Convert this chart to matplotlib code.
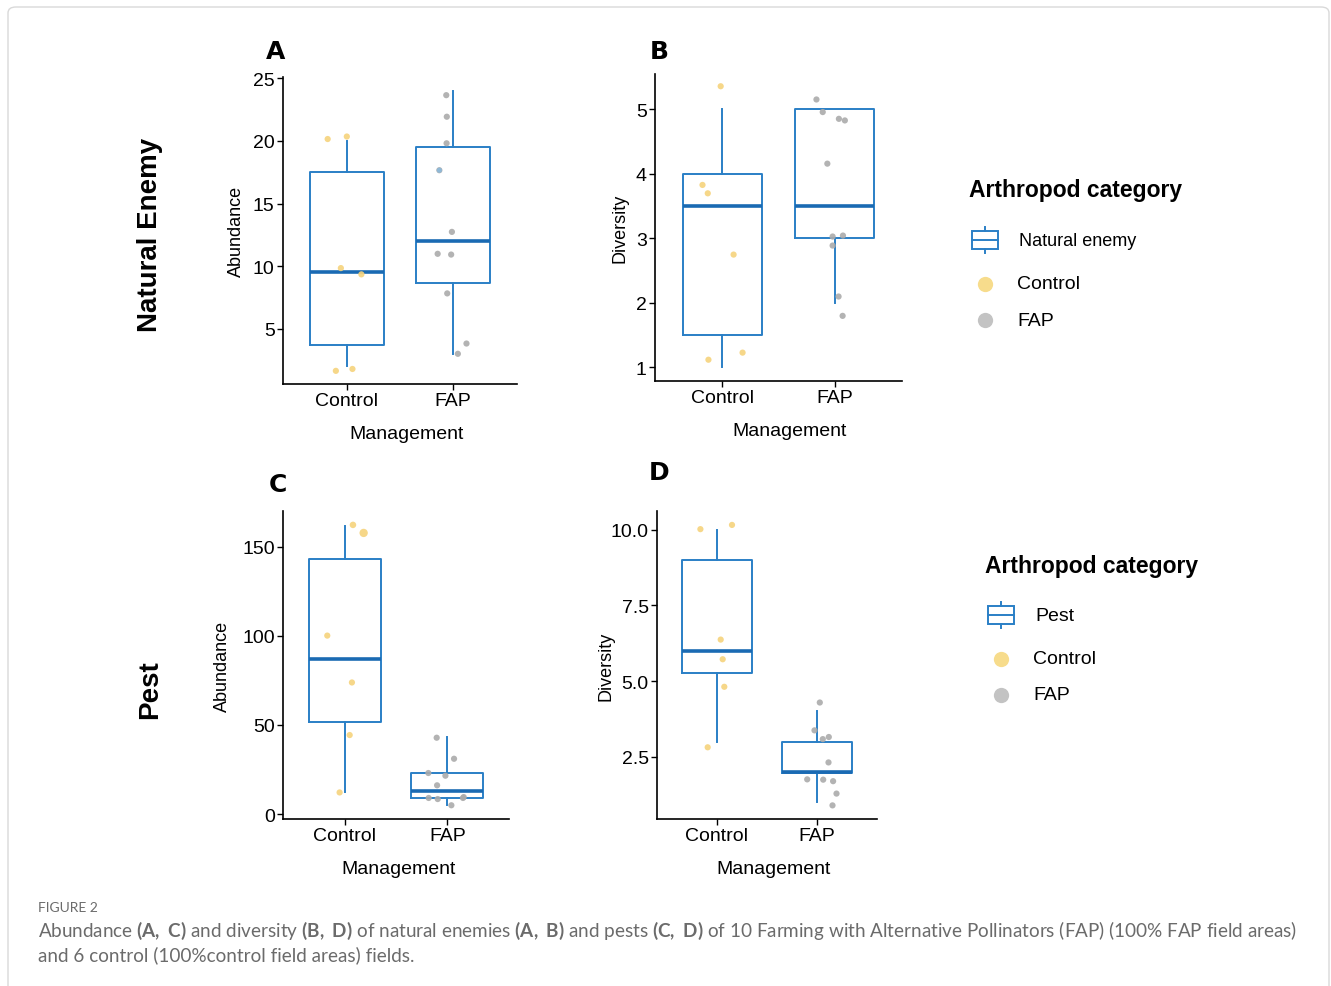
import matplotlib
matplotlib.use("Agg")
import matplotlib.pyplot as plt
from matplotlib.patches import Rectangle, FancyBboxPatch
from matplotlib.lines import Line2D
import numpy as np

plt.rcParams['font.family'] = ['Liberation Sans', 'DejaVu Sans']
plt.rcParams['mathtext.fontset'] = 'custom'
plt.rcParams['mathtext.rm'] = 'Lato'
plt.rcParams['mathtext.bf'] = 'Lato:bold'

W, H = 1331, 987

groups = ["Control", "FAP"]

# ---- Panel A: natural enemy abundance ----
A_box = {  # whislo, q1, med, q3, whishi
    "Control": [2.0, 3.75, 9.5, 17.5, 20.0],
    "FAP": [3.0, 8.7, 12.0, 19.5, 24.0],
}
A_ctrl = [20.15, 20.35, 9.85, 9.35, 1.65, 1.8]
A_ctrl_jit = [-0.18, 0.0, -0.056, 0.137, -0.103, 0.053]
A_fap = [23.65, 21.93, 19.81, 17.66, 12.74, 10.99, 10.93, 7.83, 3.83, 3.01]
A_fap_jit = [-0.065, -0.06, -0.062, -0.13, -0.012, -0.146, -0.019, -0.056, 0.125, 0.044]

# ---- Panel B: natural enemy diversity ----
B_box = {
    "Control": [1.0, 1.5, 3.5, 4.0, 5.0],
    "FAP": [2.0, 3.0, 3.5, 5.0, 5.0],
}
B_ctrl = [5.36, 3.83, 3.70, 2.75, 1.12, 1.23]
B_ctrl_jit = [-0.015, -0.177, -0.13, 0.10, -0.124, 0.18]
B_fap = [5.155, 4.96, 4.855, 4.83, 4.16, 3.03, 3.045, 2.89, 2.10, 1.80]
B_fap_jit = [-0.162, -0.106, 0.038, 0.091, -0.065, -0.018, 0.074, -0.018, 0.035, 0.071]

# ---- Panel C: pest abundance ----
C_box = {
    "Control": [12.1, 51.4, 87.0, 143.3, 161.6],
    "FAP": [5.0, 8.8, 12.9, 22.8, 43.0],
}
C_ctrl = [162.2, 157.7, 100.1, 73.8, 44.3, 12.1]
C_ctrl_jit = [0.081, 0.185, -0.169, 0.071, 0.049, -0.049]
C_fap = [42.8, 31.0, 23.0, 21.5, 16.1, 9.0, 8.4, 9.5, 9.0, 4.9]
C_fap_jit = [-0.104, 0.065, -0.185, -0.019, -0.10, -0.182, -0.094, 0.159, 0.152, 0.039]

# ---- Panel D: pest diversity ----
D_box = {
    "Control": [3.0, 5.25, 6.0, 9.0, 10.0],
    "FAP": [1.0, 1.97, 2.0, 3.0, 4.0],
}
D_ctrl = [10.02, 10.16, 6.37, 5.72, 4.81, 2.81]
D_ctrl_jit = [-0.166, 0.15, 0.037, 0.057, 0.073, -0.093]
D_fap = [4.29, 3.37, 3.08, 3.15, 2.31, 1.75, 1.74, 1.69, 1.28, 0.89]
D_fap_jit = [0.028, -0.025, 0.058, 0.118, 0.115, -0.098, 0.062, 0.161, 0.195, 0.155]

BLUE = '#2a7fc6'
MEDBLUE = '#1a6ab3'
YELLOW = '#f6d37c'
GRAY = '#ababab'

def px_axes(l, r, t, b):
    return fig.add_axes([l / W, 1 - b / H, (r - l) / W, (b - t) / H])

fig = plt.figure(figsize=(W / 100, H / 100), dpi=100)

# outer border
fig.patches.append(FancyBboxPatch((8 / W, -0.05), (1329 - 8) / W, (987 - 8) / H + 0.05,
                                  boxstyle="round,pad=0,rounding_size=0.006",
                                  transform=fig.transFigure, fill=False,
                                  edgecolor='#d9d9d9', lw=1.0))

def draw_panel(ax, box, ctrl, cjit, fap, fjit, ylim, yticks, yfmt, ylabel, xlab_x,
               ctrl_sizes=None):
    stats = []
    for g in groups:
        lo, q1, med, q3, hi = box[g]
        stats.append(dict(whislo=lo, q1=q1, med=med, q3=q3, whishi=hi, label=g))
    ax.bxp(stats, positions=[1, 2], widths=0.7, showfliers=False, showcaps=False,
           boxprops=dict(color=BLUE, lw=1.4),
           whiskerprops=dict(color=BLUE, lw=1.4),
           medianprops=dict(color=MEDBLUE, lw=2.6, solid_capstyle='butt'))
    sizes = ctrl_sizes if ctrl_sizes is not None else [20] * len(ctrl)
    ax.scatter(1 + np.array(cjit), ctrl, s=sizes, color=YELLOW, alpha=0.9,
               edgecolors='none', zorder=5)
    ax.scatter(2 + np.array(fjit), fap, s=20, color=GRAY, alpha=0.9,
               edgecolors='none', zorder=5)
    ax.set_xlim(0.4, 2.6)
    ax.set_ylim(*ylim)
    ax.set_xticks([1, 2])
    ax.set_xticklabels(groups)
    ax.set_yticks(yticks)
    ax.set_yticklabels([yfmt.format(v) for v in yticks])
    for s in ['top', 'right']:
        ax.spines[s].set_visible(False)
    for s in ['left', 'bottom']:
        ax.spines[s].set_linewidth(1.2)
        ax.spines[s].set_color('black')
    ax.tick_params(axis='both', length=4, width=1.0, labelsize=14,
                   colors='black', pad=2)
    ax.set_ylabel(ylabel, fontsize=13)
    ax.set_xlabel("Management", fontsize=14)
    ax.xaxis.set_label_coords(xlab_x, -0.133)

axA = px_axes(283, 517, 78, 385)
draw_panel(axA, A_box, A_ctrl, A_ctrl_jit, A_fap, A_fap_jit, (0.6, 25.1),
           [5, 10, 15, 20, 25], "{:d}", "Abundance", 0.53)
# the tinted point in panel A
axA.scatter([2 - 0.13], [17.66], s=14, color='#8fb8d6', edgecolors='none', zorder=6)

axB = px_axes(655, 902, 75, 382)
draw_panel(axB, B_box, B_ctrl, B_ctrl_jit, B_fap, B_fap_jit, (0.79, 5.55),
           [1, 2, 3, 4, 5], "{:d}", "Diversity", 0.545)

axC = px_axes(283, 509, 512, 820)
draw_panel(axC, C_box, C_ctrl, C_ctrl_jit, C_fap, C_fap_jit, (-2.8, 170),
           [0, 50, 100, 150], "{:d}", "Abundance", 0.51,
           ctrl_sizes=[22, 36, 20, 20, 20, 20])

axD = px_axes(657, 877, 512, 820)
draw_panel(axD, D_box, D_ctrl, D_ctrl_jit, D_fap, D_fap_jit, (0.44, 10.62),
           [2.5, 5.0, 7.5, 10.0], "{:.1f}", "Diversity", 0.53)

# y-label positions (pixel x of label centre)
def set_ylab(ax, xpix, l, r):
    ax.yaxis.set_label_coords((xpix - l) / (r - l), 0.5)
    ax.yaxis.label.set_va('center')
set_ylab(axA, 236, 283, 517)
set_ylab(axB, 620, 655, 902)
set_ylab(axC, 222, 283, 509)
set_ylab(axD, 606, 657, 877)

def ftext(x, y, s, **kw):
    return fig.text(x / W, 1 - y / H, s, **kw)

# panel letters
for (x, y, s) in [(276, 52, 'A'), (659, 52, 'B'), (278, 485, 'C'), (659, 473, 'D')]:
    ftext(x, y, s, fontsize=18, fontweight='heavy', family='DejaVu Sans',
          ha='center', va='center')

# row labels
ftext(150, 235, 'Natural Enemy', fontsize=20, fontweight='bold', rotation=90,
      ha='center', va='center')
ftext(150, 690, 'Pest', fontsize=20, fontweight='bold', rotation=90,
      ha='center', va='center')

# legends
def legend(x0, ytitle, ybox, yc, yf, label):
    ftext(x0, ytitle, 'Arthropod category', fontsize=16.5, fontweight='bold',
          ha='left', va='center')
    cx = x0 + 16
    bw, bh = 26, 18
    fig.patches.append(Rectangle(((cx - bw / 2) / W, 1 - (ybox + bh / 2) / H), bw / W, bh / H,
                                 transform=fig.transFigure, fill=False,
                                 edgecolor=BLUE, lw=1.4))
    fig.lines.append(Line2D([(cx - bw / 2) / W, (cx + bw / 2) / W], [1 - ybox / H] * 2,
                            transform=fig.transFigure, color=BLUE, lw=1.4))
    fig.lines.append(Line2D([cx / W] * 2, [1 - (ybox - bh / 2 - 4) / H, 1 - (ybox - bh / 2) / H],
                            transform=fig.transFigure, color=BLUE, lw=1.4))
    fig.lines.append(Line2D([cx / W] * 2, [1 - (ybox + bh / 2) / H, 1 - (ybox + bh / 2 + 4) / H],
                            transform=fig.transFigure, color=BLUE, lw=1.4))
    t = ftext(x0 + 50, ybox + 1, label, fontsize=14, ha='left', va='center')
    if len(label) > 6:
        t.set_fontsize(13)
    fig.lines.append(Line2D([cx / W], [1 - yc / H], transform=fig.transFigure, marker='o',
                            markersize=11, color='#f7dc8c', markeredgewidth=0, linestyle='none'))
    fig.lines.append(Line2D([cx / W], [1 - yf / H], transform=fig.transFigure, marker='o',
                            markersize=11, color='#c3c3c3', markeredgewidth=0, linestyle='none'))
    ftext(x0 + 48, yc, 'Control', fontsize=14, ha='left', va='center')
    ftext(x0 + 48, yf, 'FAP', fontsize=14, ha='left', va='center')

legend(969, 191, 241, 285, 321, 'Natural enemy')
legend(985, 566, 616, 660, 696, 'Pest')

# caption
ftext(38, 908, 'FIGURE 2', fontsize=10, family='Lato', color='#6b6b6b',
      ha='left', va='center')
cap1 = (r"Abundance $\mathbf{(A,}$ $\mathbf{C)}$ and diversity $\mathbf{(B,}$ $\mathbf{D)}$ "
        r"of natural enemies $\mathbf{(A,}$ $\mathbf{B)}$ and pests $\mathbf{(C,}$ $\mathbf{D)}$ "
        r"of 10 Farming with Alternative Pollinators (FAP) (100% FAP field areas)")
cap2 = "and 6 control (100%control field areas) fields."
ftext(38, 931, cap1, fontsize=13.6, family='Lato', color='#6b6b6b', ha='left', va='center')
ftext(38, 955, cap2, fontsize=13.6, family='Lato', color='#6b6b6b', ha='left', va='center')

fig.savefig('out.png', dpi=100)
